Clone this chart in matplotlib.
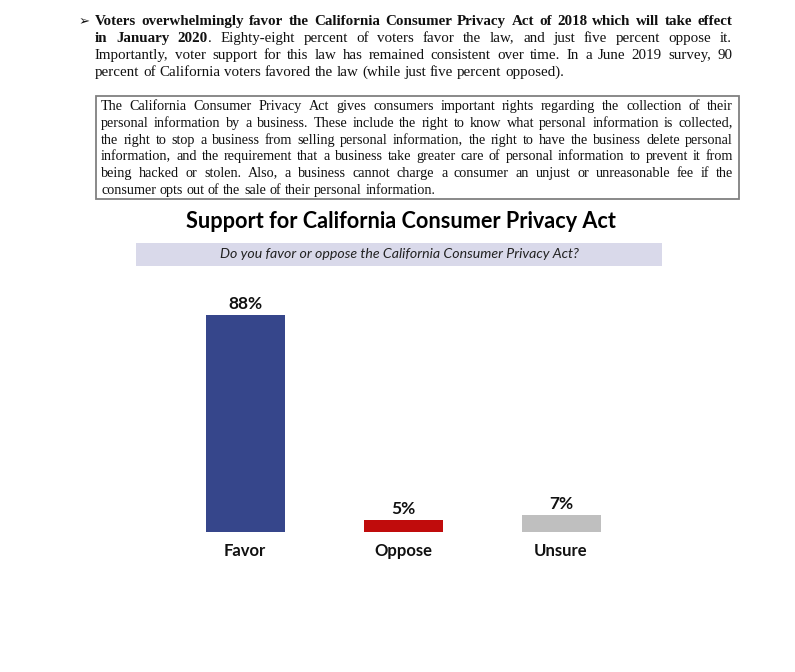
import math

import matplotlib
matplotlib.use("Agg")
import matplotlib.pyplot as plt
from matplotlib.patches import Rectangle

W, H = 795, 672
DPI = 100

# chart data
categories = ["Favor", "Oppose", "Unsure"]
values = [88, 5, 7]
value_labels = ["88%", "5%", "7%"]
bar_colors = ["#36468b", "#c00c0c", "#bfbfbf"]

title = "Support for California Consumer Privacy Act"
question = "Do you favor or oppose the California Consumer Privacy Act?"

# surrounding report text, one entry per printed line: (text, bold) runs
intro_lines = [
    [("Voters overwhelmingly favor the California Consumer Privacy Act of 2018 which will take effect", True)],
    [("in January 2020", True),
     (". Eighty-eight percent of voters favor the law, and just five percent oppose it.", False)],
    [("Importantly, voter support for this law has remained consistent over time. In a June 2019 survey, 90", False)],
    [("percent of California voters favored the law (while just five percent opposed).", False)],
]
box_lines = [
    "The California Consumer Privacy Act gives consumers important rights regarding the collection of their",
    "personal information by a business. These include the right to know what personal information is collected,",
    "the right to stop a business from selling personal information, the right to have the business delete personal",
    "information, and the requirement that a business take greater care of personal information to prevent it from",
    "being hacked or stolen. Also, a business cannot charge a consumer an unjust or unreasonable fee if the",
    "consumer opts out of the sale of their personal information.",
]

fig = plt.figure(figsize=(W / DPI, H / DPI), dpi=DPI)
fig.patch.set_facecolor("white")
renderer = fig.canvas.get_renderer()


def fx(x):
    return x / W


def fy(y):
    # y measured in pixels from the top of the image
    return 1 - y / H


def words_of(runs):
    words = [[]]
    for text, bold in runs:
        for i, part in enumerate(text.split(" ")):
            if i > 0:
                words.append([])
            if part:
                words[-1].append((part, bold))
    return [w for w in words if w]


def snapped_y(t, base):
    # Agg rounds each text bitmap on its own; nudge so every word of a
    # line lands on the same pixel baseline
    _, h, d = renderer.get_text_width_height_descent(
        t.get_text(), t.get_fontproperties(), False)
    return base + math.floor(h) - math.floor(h - d) - d


def draw_justified(runs, x0, x1, y, size, family, last=False):
    # one Text per word so the line can be spread to both margins
    base = round(y)
    words = words_of(runs)
    placed = []
    widths = []
    for word in words:
        pieces = []
        wsum = 0
        for text, bold in word:
            t = fig.text(0, fy(base), text, fontsize=size, family=family,
                         fontweight="bold" if bold else "normal",
                         va="baseline", ha="left", color="#111111")
            t.set_y(fy(snapped_y(t, base)))
            wpx = t.get_window_extent(renderer=renderer).width
            pieces.append((t, wpx))
            wsum += wpx
        placed.append(pieces)
        widths.append(wsum)
    if last or len(words) < 2:
        gap = size * DPI / 72 * 0.25
    else:
        gap = (x1 - x0 - sum(widths)) / (len(words) - 1)
    x = x0
    for pieces, wsum in zip(placed, widths):
        xx = x
        for t, wpx in pieces:
            t.set_x(fx(xx))
            xx += wpx
        x += wsum + gap


# bullet paragraph
fig.text(fx(79), fy(25), "\u27a2", fontsize=9.5, family="DejaVu Sans",
         va="baseline", ha="left", color="#111111")
for i, runs in enumerate(intro_lines):
    draw_justified(runs, 95, 732, 25 + i * 17, 10.8, "Liberation Serif",
                   last=(i == len(intro_lines) - 1))

# boxed definition
fig.patches.append(Rectangle((fx(96), fy(199)), fx(739) - fx(96), fy(96) - fy(199),
                             transform=fig.transFigure, facecolor="white",
                             edgecolor="#808080", linewidth=1.3))
for i, line in enumerate(box_lines):
    draw_justified([(line, False)], 101, 733, 110.5 + i * 16.6, 10.2, "Liberation Serif",
                   last=(i == len(box_lines) - 1))

# chart title and question band
fig.text(fx(401), fy(222), title, fontsize=15.6, family="Lato", fontweight="bold",
         ha="center", va="center", color="#000000")
fig.patches.append(Rectangle((fx(136), fy(266)), fx(662) - fx(136), fy(243) - fy(266),
                             transform=fig.transFigure, facecolor="#d9d9ea",
                             edgecolor="none"))
fig.text(fx(399), fy(254.5), question, fontsize=10.2, family="Lato", style="italic",
         ha="center", va="center", color="#222222")

# bar chart
px_per_unit = 217 / 88
ax = fig.add_axes([fx(166), (H - 532) / H, fx(640) - fx(166), 100 * px_per_unit / H])
x = list(range(len(categories)))
ax.bar(x, values, width=0.5, color=bar_colors)
ax.set_xlim(-0.5, 2.5)
ax.set_ylim(0, 100)
for xi, v, lab in zip(x, values, value_labels):
    ax.annotate(lab, (xi, v), xytext=(0, 2), textcoords="offset points",
                ha="center", va="bottom", fontsize=12.5, family="Lato",
                fontweight="bold", color="#111111")
ax.set_xticks(x)
ax.set_xticklabels(categories, fontsize=12, family="Lato", fontweight="bold",
                   color="#111111")
ax.tick_params(axis="x", length=0, pad=8)
ax.set_yticks([])
for s in ax.spines.values():
    s.set_visible(False)
ax.patch.set_alpha(0)

fig.savefig("out.png", dpi=DPI)
